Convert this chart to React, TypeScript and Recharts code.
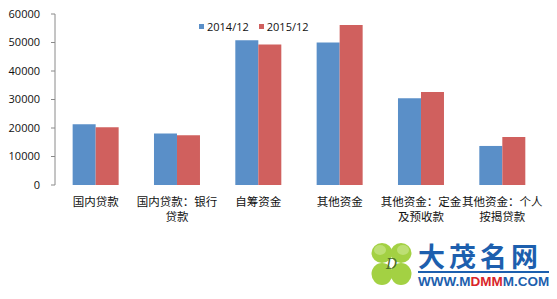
import React from 'react';
import { BarChart, Bar, XAxis, YAxis, Legend } from 'recharts';

const categories = ['国内贷款', '国内贷款：银行\n贷款', '自筹资金', '其他资金', '其他资金：定金\n及预收款', '其他资金：个人\n按揭贷款'];
const s2014 = [21300, 18100, 50800, 50000, 30400, 13700];
const s2015 = [20300, 17500, 49300, 56100, 32600, 16800];
const seriesNames = ['2014/12', '2015/12'];
const yTicks = [0, 10000, 20000, 30000, 40000, 50000, 60000];
const boundaryTicks = [0, 1, 2, 3, 4, 5, 6];

const BLUE = '#5A8FC8';
const RED = '#D0605E';

const data = categories.map((c, i) => ({ name: c, a: s2014[i], b: s2015[i] }));

const CatTick = (props: any) => {
  const { x, y, payload } = props;
  const lines = String(payload.value).split('\n');
  return (
    <text x={x} y={y} textAnchor="middle" fontSize={11.5} fill="#111" fontFamily="'Noto Sans CJK SC'">
      {lines.map((l: string, i: number) => (
        <tspan key={i} x={x} dy={i === 0 ? 21 : 15}>{l}</tspan>
      ))}
    </text>
  );
};

const LegendContent = () => (
  <div style={{ display: 'flex', alignItems: 'center', fontFamily: "'Open Sans'", fontSize: 11, color: '#111' }}>
    {seriesNames.map((n, i) => (
      <div key={n} style={{ display: 'flex', alignItems: 'center', marginRight: 10 }}>
        <div style={{ width: 5, height: 5, background: i === 0 ? BLUE : RED, marginRight: 3 }} />
        <span>{n}</span>
      </div>
    ))}
  </div>
);

const Logo = () => (
  <svg width={189} height={64} style={{ position: 'absolute', left: 368, top: 232 }}>
    <g transform="translate(0,6)">
      <g fill="#a3d143">
        <ellipse cx={14} cy={15} rx={10.5} ry={10} />
        <ellipse cx={33} cy={15} rx={10.5} ry={10} />
        <ellipse cx={14} cy={36} rx={10.5} ry={11} />
        <ellipse cx={33} cy={36} rx={10.5} ry={11} />
      </g>
      <g fill="#c9e68a" opacity={0.7}>
        <ellipse cx={12} cy={12} rx={6} ry={5} />
        <ellipse cx={35} cy={12} rx={6} ry={5} />
      </g>
      <text x={23.5} y={31} textAnchor="middle" fontSize={14} fontStyle="italic" fill="#4a6a2a" fontFamily="'DejaVu Serif'">D</text>
      <text x={50} y={29} fontSize={27} fontWeight="bold" fill="#1d5fae" fontFamily="'Noto Sans CJK SC'" letterSpacing={4}>大茂名网</text>
      <rect x={50} y={33} width={132} height={2} fill="#1d5fae" />
      <text x={50} y={48} fontSize={13.5} fontWeight="bold" fill="#1d5fae" fontFamily="'Liberation Sans'">
        WWW.M<tspan fill="#d9262a">DMM</tspan>M.COM
      </text>
    </g>
  </svg>
);

export default function App() {
  return (
    <div style={{ position: 'relative', margin: -8, width: 557, height: 299, background: '#fff', overflow: 'hidden' }}>
      <div style={{ position: 'absolute', left: 0, top: 0, width: 557, height: 2, background: '#c9c9c9' }} />
      <div style={{ position: 'absolute', left: 0, top: 0, width: 2, height: 299, background: '#c9c9c9' }} />
      <BarChart width={557} height={299} data={data} margin={{ top: 14, right: 14, left: 0, bottom: 0 }} barGap={0} barCategoryGap="21.7%">
        <XAxis xAxisId="b" type="number" domain={[0, 6]} ticks={boundaryTicks} height={0} tickSize={4} tickFormatter={() => ''} stroke="#8a8a8a" axisLine={{ stroke: '#8a8a8a' }} tickLine={{ stroke: '#8a8a8a' }} allowDataOverflow />
        <XAxis xAxisId="a" dataKey="name" height={114} axisLine={false} tickLine={false} tickSize={0} tickMargin={0} interval={0} tick={<CatTick />} />
        <YAxis width={55} domain={[0, 60000]} ticks={yTicks} tickSize={4} tickMargin={11} axisLine={{ stroke: '#8a8a8a' }} tickLine={{ stroke: '#8a8a8a' }} tick={{ fill: '#111', fontSize: 11, fontFamily: "'Open Sans'" }} interval={0} />
        <Legend verticalAlign="middle" align="center" layout="horizontal" content={<LegendContent />} wrapperStyle={{ position: 'absolute', top: 19, left: 199, width: 'auto' }} />
        <Bar xAxisId="a" dataKey="a" name={seriesNames[0]} fill={BLUE} isAnimationActive={false} />
        <Bar xAxisId="a" dataKey="b" name={seriesNames[1]} fill={RED} isAnimationActive={false} />
      </BarChart>
      <Logo />
    </div>
  );
}
